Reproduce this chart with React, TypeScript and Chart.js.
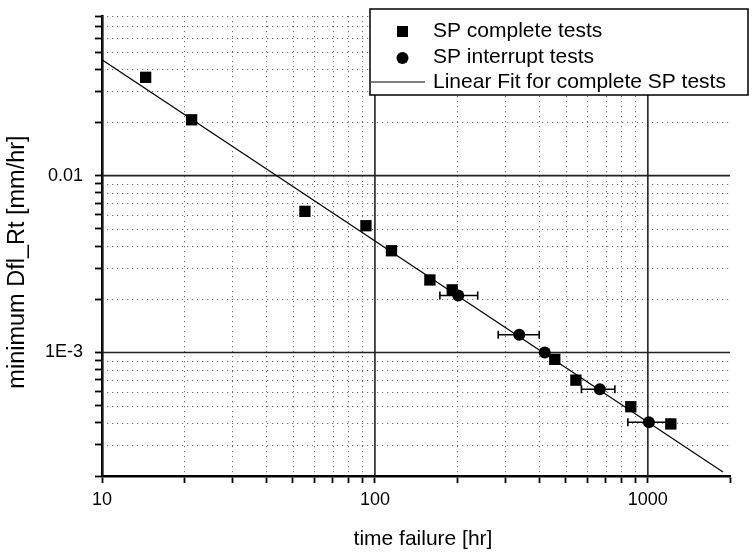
import React, { useEffect, useRef } from "react";
import { Chart, registerables } from "chart.js";

Chart.register(...registerables);

// ---- data ----
const completeX = [14.45, 21.3, 55.4, 92.7, 115, 159, 192, 456, 545, 866, 1214];
const completeY = [0.036, 0.0207, 0.00628, 0.00521, 0.00376, 0.00257, 0.00226, 0.000914, 0.000697, 0.000493, 0.000394];

const interruptX = [202, 338, 419, 667, 1009];
const interruptY = [0.0021, 0.00126, 0.001, 0.000619, 0.000403];
const interruptXLow = [173, 283, null, 571, 845];
const interruptXHigh = [238, 400, null, 757, 1204];

const fitX = [10, 1885];
const fitY = [0.0452, 0.000211];

// ---- axes ----
const xTickValues = [10, 20, 30, 40, 50, 60, 70, 80, 90, 100, 200, 300, 400, 500, 600, 700, 800, 900, 1000, 2000];
const xMajorValues = [10, 100, 1000];
const xTickLabels = ["10", "100", "1000"];
const yTickValues = [
  0.0002, 0.0003, 0.0004, 0.0005, 0.0006, 0.0007, 0.0008, 0.0009, 0.001,
  0.002, 0.003, 0.004, 0.005, 0.006, 0.007, 0.008, 0.009, 0.01,
  0.02, 0.03, 0.04, 0.05, 0.06, 0.07, 0.08,
];
const yMajorValues = [0.001, 0.01];
const yTickLabels = ["1E-3", "0.01"];

const xTitle = "time failure [hr]";
const yTitle = "minimum Dfl_Rt [mm/hr]";
const legendLabels = ["SP complete tests", "SP interrupt tests", "Linear Fit for complete SP tests"];

const FONT = "'Liberation Sans', Arial, Helvetica, sans-serif";

const isMajor = (v: number, majors: number[]) => majors.some((m) => Math.abs(v - m) / m < 1e-6);

const gridPlugin = {
  id: "customGrid",
  beforeDatasetsDraw(chart: any) {
    const { ctx, chartArea: a, scales } = chart;
    const xs = scales.x;
    const ys = scales.y;
    ctx.save();
    ctx.beginPath();
    ctx.rect(a.left, a.top, a.right - a.left, a.bottom - a.top);
    ctx.clip();
    // minor dotted
    ctx.strokeStyle = "#6a6a6a";
    ctx.lineWidth = 1;
    ctx.setLineDash([1.2, 3.8]);
    xTickValues.forEach((v) => {
      if (isMajor(v, xMajorValues)) return;
      const px = Math.round(xs.getPixelForValue(v)) + 0.5;
      ctx.beginPath();
      ctx.moveTo(px, a.top);
      ctx.lineTo(px, a.bottom);
      ctx.stroke();
    });
    yTickValues.forEach((v) => {
      if (isMajor(v, yMajorValues)) return;
      const py = Math.round(ys.getPixelForValue(v)) + 0.5;
      ctx.beginPath();
      ctx.moveTo(a.left, py);
      ctx.lineTo(a.right, py);
      ctx.stroke();
    });
    // major solid
    ctx.setLineDash([]);
    ctx.strokeStyle = "#222";
    ctx.lineWidth = 1.6;
    xMajorValues.forEach((v) => {
      const px = xs.getPixelForValue(v);
      ctx.beginPath();
      ctx.moveTo(px, a.top);
      ctx.lineTo(px, a.bottom);
      ctx.stroke();
    });
    yMajorValues.forEach((v) => {
      const py = ys.getPixelForValue(v);
      ctx.beginPath();
      ctx.moveTo(a.left, py);
      ctx.lineTo(a.right, py);
      ctx.stroke();
    });
    ctx.restore();

    // error bars
    ctx.save();
    ctx.strokeStyle = "#000";
    ctx.lineWidth = 1.6;
    interruptX.forEach((_, i) => {
      const lo = interruptXLow[i];
      const hi = interruptXHigh[i];
      if (lo == null || hi == null) return;
      const py = ys.getPixelForValue(interruptY[i]);
      const x1 = xs.getPixelForValue(lo);
      const x2 = xs.getPixelForValue(hi);
      ctx.beginPath();
      ctx.moveTo(x1, py);
      ctx.lineTo(x2, py);
      ctx.moveTo(x1, py - 4);
      ctx.lineTo(x1, py + 4);
      ctx.moveTo(x2, py - 4);
      ctx.lineTo(x2, py + 4);
      ctx.stroke();
    });
    ctx.restore();
  },
};

const legendPlugin = {
  id: "customLegend",
  afterDraw(chart: any) {
    const { ctx } = chart;
    const bx = 370, by = 9, bw = 378, bh = 86;
    ctx.save();
    ctx.fillStyle = "#fff";
    ctx.fillRect(bx, by, bw, bh);
    ctx.strokeStyle = "#000";
    ctx.lineWidth = 1.5;
    ctx.strokeRect(bx, by, bw, bh);
    ctx.fillStyle = "#000";
    // square
    ctx.fillRect(402.5 - 5.5, 31.5 - 5.5, 11, 11);
    // circle
    ctx.beginPath();
    ctx.arc(402.5, 58, 6, 0, Math.PI * 2);
    ctx.fill();
    // line
    ctx.lineWidth = 1.2;
    ctx.beginPath();
    ctx.moveTo(371, 82);
    ctx.lineTo(425, 82);
    ctx.stroke();
    ctx.font = `21px ${FONT}`;
    ctx.textBaseline = "middle";
    ctx.textAlign = "left";
    ctx.fillText(legendLabels[0], 433, 31.5);
    ctx.fillText(legendLabels[1], 433, 57.5);
    ctx.fillText(legendLabels[2], 433, 82.5);
    ctx.restore();
  },
};

// axis titles are drawn with an offset from the plot centre, as in the reference
const axisTitlePlugin = {
  id: "axisTitles",
  afterDraw(chart: any) {
    const { ctx, chartArea: a } = chart;
    ctx.save();
    ctx.fillStyle = "#000";
    ctx.textAlign = "center";
    ctx.textBaseline = "middle";
    ctx.font = `21px ${FONT}`;
    ctx.fillText(xTitle, (a.left + a.right) / 2 + 7, 539);
    ctx.translate(18, (a.top + a.bottom) / 2 + 16);
    ctx.rotate(-Math.PI / 2);
    ctx.font = `23.5px ${FONT}`;
    ctx.fillText(yTitle, 0, 0);
    ctx.restore();
  },
};

export default function App() {
  const ref = useRef<HTMLCanvasElement | null>(null);
  useEffect(() => {
    if (!ref.current) return;
    const chart = new Chart(ref.current, {
      type: "scatter",
      data: {
        datasets: [
          {
            label: legendLabels[0],
            data: completeX.map((x, i) => ({ x, y: completeY[i] })),
            pointStyle: "rect",
            pointRadius: 8,
            pointHoverRadius: 8,
            backgroundColor: "#000",
            borderColor: "#000",
            borderWidth: 0,
          },
          {
            label: legendLabels[1],
            data: interruptX.map((x, i) => ({ x, y: interruptY[i] })),
            pointStyle: "circle",
            pointRadius: 6,
            pointHoverRadius: 6,
            backgroundColor: "#000",
            borderColor: "#000",
            borderWidth: 0,
          },
          {
            type: "line",
            label: legendLabels[2],
            data: fitX.map((x, i) => ({ x, y: fitY[i] })),
            showLine: true,
            pointRadius: 0,
            borderColor: "#000",
            borderWidth: 1.2,
            fill: false,
          } as any,
        ],
      },
      options: {
        animation: false,
        responsive: false,
        layout: { padding: { top: 16, right: 25, left: 0, bottom: 0 } },
        plugins: {
          legend: { display: false },
          tooltip: { enabled: false },
        },
        scales: {
          x: {
            type: "logarithmic",
            min: 10,
            max: 2000,
            afterBuildTicks: (s: any) => {
              s.ticks = xTickValues.map((v) => ({ value: v }));
            },
            afterFit: (s: any) => {
              s.height = 78;
              s.paddingLeft = 0;
              s.paddingRight = 0;
            },
            ticks: {
              autoSkip: false,
              maxRotation: 0,
              padding: 6,
              color: "#000",
              font: { family: FONT, size: 18 },
              callback: (_v: any, i: number) => {
                const v = xTickValues[i];
                const k = xMajorValues.findIndex((m) => Math.abs(v - m) / m < 1e-6);
                return k >= 0 ? xTickLabels[k] : "";
              },
            },
            grid: {
              drawOnChartArea: false,
              drawTicks: true,
              tickLength: 7,
              tickColor: "#000",
              tickWidth: 1.8,
            },
            border: { display: true, color: "#000", width: 2.6 },
            title: { display: false },
          },
          y: {
            type: "logarithmic",
            min: 0.0002,
            max: 0.08,
            afterBuildTicks: (s: any) => {
              s.ticks = yTickValues.map((v) => ({ value: v }));
            },
            afterFit: (s: any) => {
              s.width = 102;
              s.paddingTop = 0;
              s.paddingBottom = 0;
            },
            ticks: {
              autoSkip: false,
              padding: 12,
              color: "#000",
              font: { family: FONT, size: 18 },
              callback: (_v: any, i: number) => {
                const v = yTickValues[i];
                const k = yMajorValues.findIndex((m) => Math.abs(v - m) / m < 1e-6);
                return k >= 0 ? yTickLabels[k] : "";
              },
            },
            grid: {
              drawOnChartArea: false,
              drawTicks: true,
              tickLength: 7,
              tickColor: "#000",
              tickWidth: 1.8,
            },
            border: { display: true, color: "#000", width: 2.6 },
            title: { display: false },
          },
        },
      },
      plugins: [gridPlugin, legendPlugin, axisTitlePlugin],
    } as any);
    return () => chart.destroy();
  }, []);

  return (
    <div style={{ position: "fixed", left: 0, top: 0, width: 755, height: 554, background: "#fff" }}>
      <canvas ref={ref} width={755} height={554} style={{ display: "block", width: 755, height: 554 }} />
    </div>
  );
}
